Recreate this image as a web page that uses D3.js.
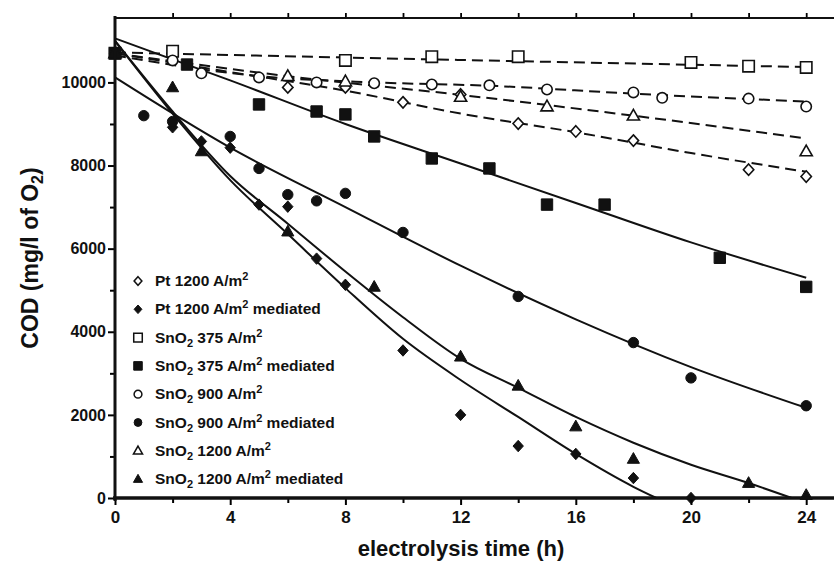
<!DOCTYPE html>
<html>
<head>
<meta charset="utf-8">
<script src="https://cdn.jsdelivr.net/npm/d3@7"></script>
<style>
  body { margin: 0; background: #fff; }
  text { font-family: "Liberation Sans", Arial, sans-serif; font-weight: bold; fill: #111; }
</style>
</head>
<body>
<svg id="chart" width="834" height="574"></svg>
<script>
// measured points [time h, COD]
const ptOpen = [[0,10700],[6,9880],[8,9880],[10,9520],[12,9710],[14,9010],[16,8820],[18,8600],[22,7900],[24,7735]];
const ptMed = [[0,10700],[2,8920],[3,8580],[4,8430],[5,7060],[6,7010],[7,5760],[8,5130],[10,3550],[12,2000],[14,1250],[16,1060],[18,480],[20,0]];
const sn375 = [[0,10700],[2,10750],[8,10530],[11,10620],[14,10620],[20,10480],[22,10390],[24,10360]];
const sn375Med = [[0,10700],[2.5,10430],[5,9470],[7,9300],[8,9230],[9,8700],[11,8170],[13,7930],[15,7060],[17,7060],[21,5780],[24,5080]];
const sn900 = [[0,10700],[2,10530],[3,10220],[5,10120],[7,10000],[9,9980],[11,9950],[13,9930],[15,9830],[18,9760],[19,9630],[22,9610],[24,9420]];
const sn900Med = [[0,10700],[1,9200],[2,9060],[4,8700],[5,7930],[6,7300],[7,7150],[8,7330],[10,6390],[14,4850],[18,3740],[20,2890],[24,2220]];
const sn1200 = [[0,10700],[6,10150],[8,10020],[12,9650],[15,9420],[18,9200],[24,8340]];
const sn1200Med = [[0,10700],[2,9880],[3,8340],[6,6410],[9,5080],[12,3400],[14,2700],[16,1720],[18,940],[22,360],[24,70]];

// fitted curves
const fitPt = [[0,10700],[4,10250],[8,9800],[12,9250],[16,8800],[20,8300],[24,7850]];
const fitPtMed = [[0,11000],[2,9250],[4,7650],[6,6350],[8,5050],[10,3830],[12,2840],[14,1950],[16,1060],[18,270],[18.8,0]];
const fit375 = [[0,10720],[12,10540],[24,10370]];
const fit375Med = [[0,11060],[4,10050],[8,9000],[12,8050],[16,7100],[20,6150],[24,5300]];
const fit900 = [[0,10650],[5,10150],[9,10000],[13,9920],[18,9730],[24,9540]];
const fit900Med = [[0,10120],[4,8430],[8,7000],[12,5590],[16,4300],[20,3150],[24,2170]];
const fit1200 = [[0,10700],[6,10150],[12,9700],[18,9200],[24,8650]];
const fit1200Med = [[0,11000],[2,9300],[4,7750],[6,6600],[8,5450],[10,4350],[12,3350],[14,2650],[16,1950],[18,1330],[20,800],[22,360],[23.5,0]];

const xTicks = [0,4,8,12,16,20,24];
const yTicks = [0,2000,4000,6000,8000,10000];

const series = [
  {name: "Pt 1200 A/m", sub: null, med: false, shape: "diamond", filled: false, pts: ptOpen, fit: fitPt, dash: true},
  {name: "Pt 1200 A/m", sub: null, med: true, shape: "diamond", filled: true, pts: ptMed, fit: fitPtMed, dash: false},
  {name: "375 A/m", sub: "SnO", med: false, shape: "square", filled: false, pts: sn375, fit: fit375, dash: true},
  {name: "375 A/m", sub: "SnO", med: true, shape: "square", filled: true, pts: sn375Med, fit: fit375Med, dash: false},
  {name: "900 A/m", sub: "SnO", med: false, shape: "circle", filled: false, pts: sn900, fit: fit900, dash: true},
  {name: "900 A/m", sub: "SnO", med: true, shape: "circle", filled: true, pts: sn900Med, fit: fit900Med, dash: false},
  {name: "1200 A/m", sub: "SnO", med: false, shape: "triangle", filled: false, pts: sn1200, fit: fit1200, dash: true},
  {name: "1200 A/m", sub: "SnO", med: true, shape: "triangle", filled: true, pts: sn1200Med, fit: fit1200Med, dash: false}
];

const svg = d3.select("#chart");
const x = d3.scaleLinear().domain([0, 25]).range([115, 835]);
const y = d3.scaleLinear().domain([0, 11550]).range([498, 18]);

const shapes = {
  diamond: s => `M0,${-s*1.1}L${s},0L0,${s*1.1}L${-s},0Z`,
  square: s => `M${-s},${-s}h${2*s}v${2*s}h${-2*s}Z`,
  circle: s => `M${s},0A${s},${s} 0 1,1 ${-s},0A${s},${s} 0 1,1 ${s},0Z`,
  triangle: s => `M0,${-s*1.1}L${s*1.05},${s*0.75}L${-s*1.05},${s*0.75}Z`
};
const sizes = {diamond: 5.2, square: 5.7, circle: 5.2, triangle: 5.8};

// fit lines
const line = d3.line().x(d => x(d[0])).y(d => y(d[1])).curve(d3.curveMonotoneX);
svg.append("g").selectAll("path")
  .data(series)
  .join("path")
  .attr("d", d => line(d.fit))
  .attr("fill", "none")
  .attr("stroke", "#111")
  .attr("stroke-width", 2)
  .attr("stroke-dasharray", d => d.dash ? "11,6" : null);

// markers
series.forEach(s => {
  svg.append("g").selectAll("path")
    .data(s.pts)
    .join("path")
    .attr("transform", d => `translate(${x(d[0])},${y(d[1])})`)
    .attr("d", shapes[s.shape](sizes[s.shape]))
    .attr("fill", s.filled ? "#111" : "#fff")
    .attr("stroke", "#111")
    .attr("stroke-width", s.filled ? 1 : 1.6);
});

// axes
const axisG = svg.append("g");
axisG.append("g")
  .attr("transform", "translate(115,0)")
  .call(d3.axisLeft(y).tickValues(d3.range(1000, 11000, 2000)).tickSize(5).tickFormat(""))
  .call(g => g.select(".domain").remove())
  .call(g => g.selectAll("line").attr("stroke-width", 2));
axisG.append("g")
  .attr("transform", "translate(115,0)")
  .call(d3.axisLeft(y).tickValues(yTicks).tickSize(7).tickPadding(2).tickFormat(d3.format("d")))
  .call(g => g.select(".domain").remove())
  .call(g => g.selectAll("line").attr("stroke-width", 2))
  .call(g => g.selectAll("text").attr("font-size", 16).attr("fill", "#111"));
axisG.append("g")
  .attr("transform", "translate(0,498)")
  .call(d3.axisBottom(x).tickValues(d3.range(2, 25, 4)).tickSize(5).tickFormat(""))
  .call(g => g.select(".domain").remove())
  .call(g => g.selectAll("line").attr("stroke-width", 2));
axisG.append("g")
  .attr("transform", "translate(0,498)")
  .call(d3.axisBottom(x).tickValues(xTicks).tickSize(7).tickPadding(6))
  .call(g => g.select(".domain").remove())
  .call(g => g.selectAll("line").attr("stroke-width", 2))
  .call(g => g.selectAll("text").attr("font-size", 17).attr("fill", "#111"));
axisG.append("g")
  .attr("transform", "translate(0,18)")
  .call(d3.axisTop(x).tickValues(d3.range(2, 25, 2)).tickSize(5).tickFormat(""))
  .call(g => g.select(".domain").remove())
  .call(g => g.selectAll("line").attr("stroke-width", 1.8));

axisG.append("line").attr("x1", 115).attr("x2", 115).attr("y1", 16).attr("y2", 501)
  .attr("stroke", "#111").attr("stroke-width", 3);
axisG.append("line").attr("x1", 113).attr("x2", 834).attr("y1", 498).attr("y2", 498)
  .attr("stroke", "#111").attr("stroke-width", 3.5);
axisG.append("line").attr("x1", 115).attr("x2", 834).attr("y1", 18).attr("y2", 18)
  .attr("stroke", "#111").attr("stroke-width", 2.2);

// axis titles
svg.append("text")
  .attr("x", 461).attr("y", 556)
  .attr("text-anchor", "middle")
  .attr("font-size", 22)
  .text("electrolysis time (h)");

const yt = svg.append("text")
  .attr("transform", "translate(38,258) rotate(-90)")
  .attr("text-anchor", "middle")
  .attr("font-size", 23);
yt.append("tspan").text("COD (mg/l of O");
yt.append("tspan").attr("font-size", 16).attr("dy", 5).text("2");
yt.append("tspan").attr("dy", -5).text(")");

// legend
const leg = svg.append("g").selectAll("g")
  .data(series)
  .join("g")
  .attr("transform", (d, i) => `translate(138,${281 + i * 28.3})`);
leg.append("path")
  .attr("d", d => shapes[d.shape](sizes[d.shape] * 0.75))
  .attr("fill", d => d.filled ? "#111" : "#fff")
  .attr("stroke", "#111")
  .attr("stroke-width", d => d.filled ? 1 : 1.5);
const lt = leg.append("text")
  .attr("x", 17).attr("y", 5)
  .attr("font-size", 15.5);
lt.each(function(d) {
  const t = d3.select(this);
  if (d.sub) {
    t.append("tspan").text(d.sub);
    t.append("tspan").attr("font-size", 11).attr("dy", 4).text("2");
    t.append("tspan").attr("dy", -4).text(" " + d.name);
  } else {
    t.append("tspan").text(d.name);
  }
  t.append("tspan").attr("font-size", 11).attr("dy", -6).text("2");
  t.append("tspan").attr("dy", 6).text(d.med ? " mediated" : "");
});
</script>
</body>
</html>
